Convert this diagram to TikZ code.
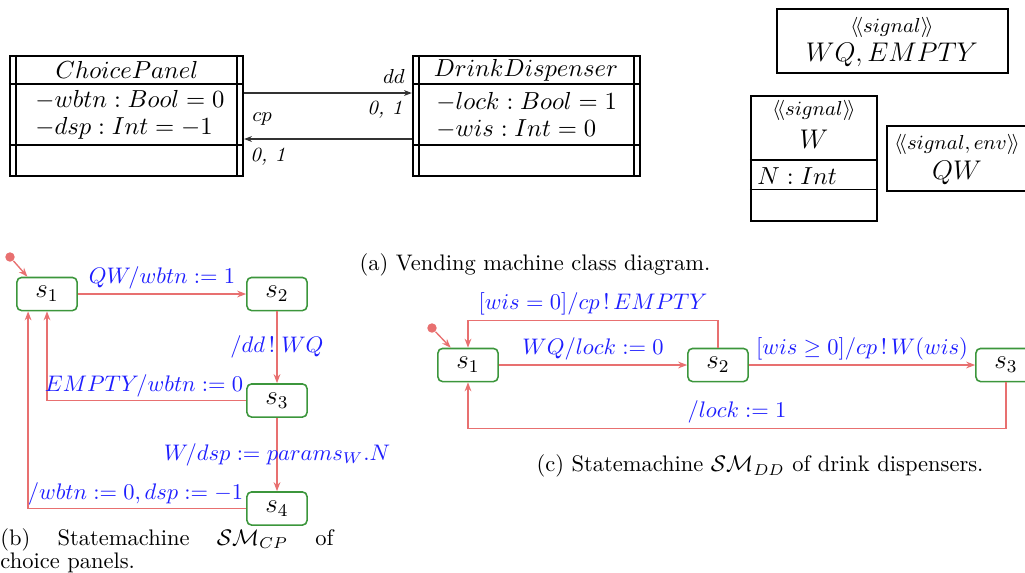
\documentclass[tikz,border=0pt]{standalone}
\usepackage{amsmath,amssymb}
\usetikzlibrary{arrows.meta,calc}
\definecolor{trred}{RGB}{232,112,112}
\definecolor{stgreen}{RGB}{60,150,60}
\definecolor{lblblue}{RGB}{30,30,255}
\begin{document}
\begin{tikzpicture}[x=0.4444pt,y=-0.4444pt,
  stbox/.style={draw=stgreen, line width=0.7pt, rounded corners=2pt, minimum width=26.7pt, minimum height=14.7pt, inner sep=0pt, font=\large},
  tr/.style={draw=trred, line width=0.6pt, -{Stealth[length=4pt,width=3pt]}},
  lbl/.style={text=lblblue, inner sep=1pt},
  initdot/.style={circle, fill=trred, minimum size=4.2pt, inner sep=0pt},
  classbox/.style={draw, line width=1pt, inner sep=0pt},
  inner/.style={line width=0.8pt},
  assoc/.style={draw=black!80, line width=0.5pt, -{Stealth[length=3.5pt,width=2.6pt]}},
  ctext/.style={font={\fontsize{11}{12}\selectfont}, inner sep=0pt},
  attrs/.style={ctext, anchor=west, align=left},
  sname/.style={font=\large, inner sep=0pt},
  mult/.style={font=\small\itshape, inner sep=0pt},
  sigst/.style={font=\small, inner sep=0pt}
]
\useasboundingbox (0,0) rectangle (1025,573);

% ---------- class diagram ----------
\node[classbox, minimum width=103.5pt, minimum height=53.3pt] (CP) at (126.5,116) {};
\draw[inner] ([xshift=3.1pt]CP.north west) -- ([xshift=3.1pt]CP.south west);
\draw[inner] ([xshift=-3.1pt]CP.north east) -- ([xshift=-3.1pt]CP.south east);
\draw[inner] ([yshift=-12.9pt]CP.north west) -- ([yshift=-12.9pt]CP.north east);
\draw[inner] ([yshift=-40pt]CP.north west) -- ([yshift=-40pt]CP.north east);
\node[ctext] (cpname) at (127,70) {$ChoicePanel$};
\node[attrs] (cpa) at (35,115) {$-wbtn : Bool = 0$\\$-dsp : Int = -1$};

\node[classbox, minimum width=100.9pt, minimum height=53.3pt] (DD) at (526.5,116) {};
\draw[inner] ([xshift=3.1pt]DD.north west) -- ([xshift=3.1pt]DD.south west);
\draw[inner] ([xshift=-3.1pt]DD.north east) -- ([xshift=-3.1pt]DD.south east);
\draw[inner] ([yshift=-12.9pt]DD.north west) -- ([yshift=-12.9pt]DD.north east);
\draw[inner] ([yshift=-40pt]DD.north west) -- ([yshift=-40pt]DD.north east);
\node[ctext] (ddname) at (526,70) {$DrinkDispenser$};
\node[attrs] (dda) at (436,115) {$-lock : Bool = 1$\\$-wis : Int = 0$};

\coordinate (ya) at (0,93);
\coordinate (yb) at (0,139);
\draw[assoc] (CP.east |- ya) -- (DD.west |- ya);
\draw[assoc] (DD.west |- yb) -- (CP.east |- yb);
\node[font=\small, inner sep=0pt] (ddlab) at (394,76) {$dd$};
\node[mult] (ddm) at (385,110) {0, 1};
\node[font=\small, inner sep=0pt] (cplab) at (262,119) {$cp$};
\node[mult] (cpm) at (268,157) {0, 1};

% signals
\node[classbox, minimum width=102.7pt, minimum height=28.4pt] (SA) at (892.5,41) {};
\node[sigst] (SAs) at (892,27) {$\langle\!\langle signal\rangle\!\rangle$};
\node[sname] (SAn) at (892,55) {$WQ, EMPTY$};

\node[classbox, minimum width=56pt, minimum height=55.6pt] (SW) at (814,158.5) {};
\draw[line width=0.6pt] ([yshift=-28.9pt]SW.north west) -- ([yshift=-28.9pt]SW.north east);
\draw[line width=0.6pt] ([yshift=-42.2pt]SW.north west) -- ([yshift=-42.2pt]SW.north east);
\node[sigst] (SWs) at (814,110) {$\langle\!\langle signal\rangle\!\rangle$};
\node[sname] (SWn) at (814,139) {$W$};
\node[ctext, anchor=west] (SWa) at (757,176) {$N : Int$};

\node[classbox, minimum width=62.2pt, minimum height=28.9pt] (SQ) at (957,158.5) {};
\node[sigst] (SQs) at (957,144) {$\langle\!\langle signal, env\rangle\!\rangle$};
\node[sname] (SQn) at (957,173) {$QW$};

\node[inner sep=0pt] (capA) at (535,265) {(a) Vending machine class diagram.};

% ---------- statemachine CP ----------
\node[stbox] (a1) at (47,294) {$s_1$};
\node[stbox] (a2) at (277,294) {$s_2$};
\node[stbox] (a3) at (277,400.5) {$s_3$};
\node[stbox] (a4) at (277,508.5) {$s_4$};
\node[initdot] (ia) at (10,257) {};
\draw[tr] (ia) -- ([xshift=5pt]a1.north west);
\draw[tr] (a1) -- node[lbl, above=1pt] {$QW/wbtn := 1$} (a2);
\draw[tr] (a2) -- node[lbl] {$/dd\,!\;WQ$} (a3);
\draw[tr] (a3.west) -| node[lbl, pos=0, anchor=south east] {$EMPTY/wbtn := 0$} (a1.south);
\draw[tr] (a3) -- node[lbl] {$W/dsp := params_W.N$} (a4);
\draw[tr] (a4.west) -| node[lbl, pos=0, anchor=south east] {$/wbtn := 0, dsp := -1$} ([xshift=-8.4pt]a1.south);

\node[anchor=north west, inner sep=0pt, text width=148pt, align=left, font={\fontsize{10}{10.3}\selectfont}] (capB) at (0,528)
  {(b)\hfill Statemachine\hfill $\mathcal{SM}_{CP}$\hfill of\\choice panels.};

% ---------- statemachine DD ----------
\node[stbox] (b1) at (468,365) {$s_1$};
\node[stbox] (b2) at (718,365) {$s_2$};
\node[stbox] (b3) at (1006,365) {$s_3$};
\node[initdot] (ib) at (432,328) {};
\draw[tr] (ib) -- ([xshift=6pt]b1.north west);
\draw[tr] (b1) -- node[lbl, above=1pt] {$WQ/lock := 0$} (b2);
\draw[tr] (b2) -- node[lbl, above=1pt] {$[wis \geq 0]/cp\,!\,W(wis)$} (b3);
\draw[tr] (b2.north) -- ++(0,-27) -| node[lbl, pos=0.25, above=1pt] {$[wis = 0]/cp\,!\,EMPTY$} (b1.north);
\draw[tr] (b3.south) -- ++(0,46) -| node[lbl, pos=0.25, above=1pt] {$/lock := 1$} (b1.south);

\node[inner sep=0pt] (capC) at (760,466) {(c) Statemachine $\mathcal{SM}_{DD}$ of drink dispensers.};
\end{tikzpicture}
\end{document}
